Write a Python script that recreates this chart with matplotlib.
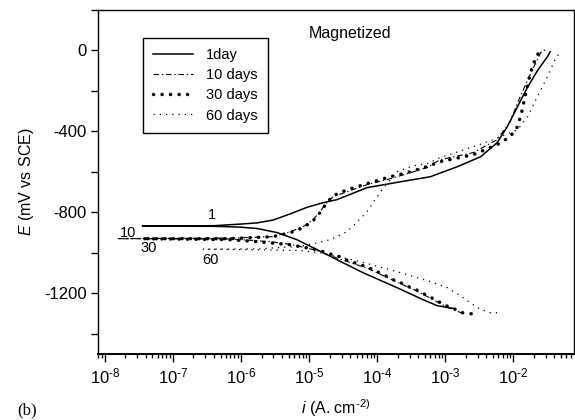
import numpy as np
import matplotlib
matplotlib.use("Agg")
from matplotlib import pyplot as plt
from matplotlib.ticker import MultipleLocator, LogLocator, NullFormatter, FixedLocator, FuncFormatter

plt.rcParams['font.family'] = ['Liberation Sans', 'DejaVu Sans']
plt.rcParams['mathtext.fontset'] = 'custom'
plt.rcParams['mathtext.rm'] = 'Liberation Sans'
plt.rcParams['mathtext.it'] = 'Liberation Sans:italic'
plt.rcParams['axes.unicode_minus'] = False

# log10 of current density (A cm-2) and potential (mV vs SCE)
log_i_1day = [-2.88, -2.97, -3.12, -3.33, -3.71, -4.21, -4.59, -4.88, -5.18, -5.47,
              -5.76, -6.01, -6.40, -7.45, -6.40, -6.01, -5.76, -5.53, -5.28, -5.03,
              -4.80, -4.59, -4.15, -3.66, -3.22, -2.82, -2.48, -2.24, -2.09, -1.94,
              -1.79, -1.64, -1.50, -1.46]
E_1day = [-1275, -1270, -1261, -1231, -1172, -1098, -1034, -985, -935, -900,
          -880, -873, -869, -868, -866, -858, -852, -838, -808, -775,
          -753, -737, -678, -649, -624, -574, -525, -456, -377, -278,
          -180, -96, -31, -6]

log_i_10 = [-2.74, -2.99, -3.21, -3.43, -3.66, -3.88, -4.13, -4.43, -4.69, -4.88,
            -5.18, -5.42, -5.76, -6.16, -7.82, -6.16, -5.53, -5.28, -5.09, -4.94,
            -4.84, -4.74, -4.65, -4.44, -4.15, -3.81, -3.56, -3.27, -3.08, -2.59,
            -2.24, -2.05, -1.90, -1.79, -1.60, -1.53]
E_10 = [-1300, -1266, -1226, -1187, -1152, -1118, -1078, -1044, -1014, -989,
        -965, -950, -940, -932, -930, -927, -920, -896, -871, -836,
        -797, -752, -723, -698, -663, -634, -609, -579, -540, -505,
        -441, -352, -229, -145, -11, 3]

log_i_30 = [-2.62, -2.75, -2.88, -2.99, -3.10, -3.21, -3.32, -3.43, -3.54, -3.66,
            -3.77, -3.88, -4.00, -4.13, -4.25, -4.43, -4.55, -4.66, -4.88, -5.28,
            -5.76, -6.16, -7.45, -6.16, -5.53, -5.28, -5.09, -4.94, -4.84, -4.75,
            -4.65, -4.44, -4.15, -3.81, -3.56, -3.27, -3.08, -2.59, -2.24, -2.05,
            -1.94, -1.88, -1.84, -1.79, -1.75, -1.70, -1.63, -1.56]
E_30 = [-1301, -1296, -1275, -1261, -1241, -1221, -1202, -1182, -1167, -1147,
        -1132, -1113, -1093, -1073, -1058, -1039, -1019, -1009, -985, -960,
        -945, -935, -930, -930, -920, -901, -876, -841, -802, -757,
        -718, -688, -658, -624, -604, -574, -550, -515, -466, -427,
        -377, -308, -244, -170, -110, -61, -11, -6]

log_i_60 = [-2.24, -2.34, -2.53, -2.74, -2.97, -3.22, -3.71, -4.20, -4.50, -4.84,
            -5.13, -5.72, -6.56, -5.72, -5.13, -4.94, -4.69, -4.44, -4.29, -4.15,
            -3.96, -3.81, -3.71, -3.47, -3.27, -3.08, -2.59, -2.30, -1.94, -1.79,
            -1.65, -1.50, -1.39, -1.31]
E_60 = [-1296, -1296, -1271, -1221, -1172, -1142, -1093, -1048, -1024, -999,
        -989, -985, -982, -980, -968, -955, -935, -895, -846, -797,
        -703, -639, -599, -570, -560, -530, -476, -441, -392, -327,
        -229, -130, -46, -6]

labels = ['1day', '10 days', '30 days', '60 days']
curve_tags = ['1', '10', '30', '60']
tag_log_i = [-6.42, -7.66, -7.35, -6.45]
tag_E = [-811, -900, -974, -1034]
decades = [-8, -7, -6, -5, -4, -3, -2]

HY = '\u2010'  # plain hyphen, as in the original tick labels


def dec_label(v, pos):
    p = int(round(np.log10(v)))
    return r'$\mathdefault{10^{%s%d}}$' % (HY, -p) if p < 0 else r'$\mathdefault{10^{%d}}$' % p


fig = plt.figure(figsize=(5.75, 4.2), dpi=100)
ax = fig.add_axes([98 / 575, 66 / 420, 476 / 575, 344 / 420])

l1, = ax.plot(10 ** np.array(log_i_1day), E_1day, color='black', lw=1.1)
l10, = ax.plot(10 ** np.array(log_i_10), E_10, color='black', lw=0.8,
               linestyle=(0, (5, 2.5, 1.2, 2.5)))
l30, = ax.plot(10 ** np.array(log_i_30), E_30, color='black', lw=2.5,
               linestyle=(0, (0.05, 2.4)), dash_capstyle='round')
l60, = ax.plot(10 ** np.array(log_i_60), E_60, color='black', lw=0.9,
               linestyle=(0, (1, 4)))

ax.set_xscale('log')
ax.set_xlim(10 ** -8.1, 10 ** -1.11)
ax.set_ylim(-1500, 200)
ax.yaxis.set_major_locator(MultipleLocator(400))
ax.yaxis.set_minor_locator(MultipleLocator(200))
ax.xaxis.set_major_locator(FixedLocator([10.0 ** d for d in decades]))
ax.xaxis.set_major_formatter(FuncFormatter(dec_label))
ax.xaxis.set_minor_locator(LogLocator(base=10, subs=np.arange(2, 10), numticks=20))
ax.xaxis.set_minor_formatter(NullFormatter())

ax.tick_params(axis='both', which='major', direction='out', length=5, width=1,
               labelsize=12, pad=3)
ax.tick_params(axis='x', which='major', length=6)
ax.tick_params(axis='y', which='minor', direction='out', length=5, width=1)
ax.tick_params(axis='x', which='minor', direction='out', length=3, width=1)
for s in ax.spines.values():
    s.set_linewidth(1.0)
ax.spines['bottom'].set_linewidth(1.4)

ax.set_xlabel(r'$\mathit{i}$ (A. cm$^{%s2)}$' % HY, fontsize=11.5, labelpad=8)
ax.set_ylabel(r'$\mathit{E}$ (mV vs SCE)', fontsize=11.5, labelpad=6)

for tag, xi, ei in zip(curve_tags, tag_log_i, tag_E):
    ax.text(10 ** xi, ei, tag, fontsize=10.5, ha='center', va='center')

ax.text(0.529, 0.933, 'Magnetized', transform=ax.transAxes, fontsize=11.5,
        ha='center', va='center')

leg = ax.legend([l1, l10, l30, l60], labels, loc='upper left',
                bbox_to_anchor=(0.0945, 0.9186), borderaxespad=0, fontsize=10.5,
                frameon=True, fancybox=False, edgecolor='black', framealpha=1,
                handlelength=2.7, handletextpad=0.9, labelspacing=0.42,
                borderpad=0.7)
leg.get_frame().set_linewidth(1.0)

fig.text(17 / 575, 1 - 410 / 420, '(b)', fontsize=12, family='Liberation Serif',
         ha='left', va='center')

fig.savefig('out.png', dpi=100)
